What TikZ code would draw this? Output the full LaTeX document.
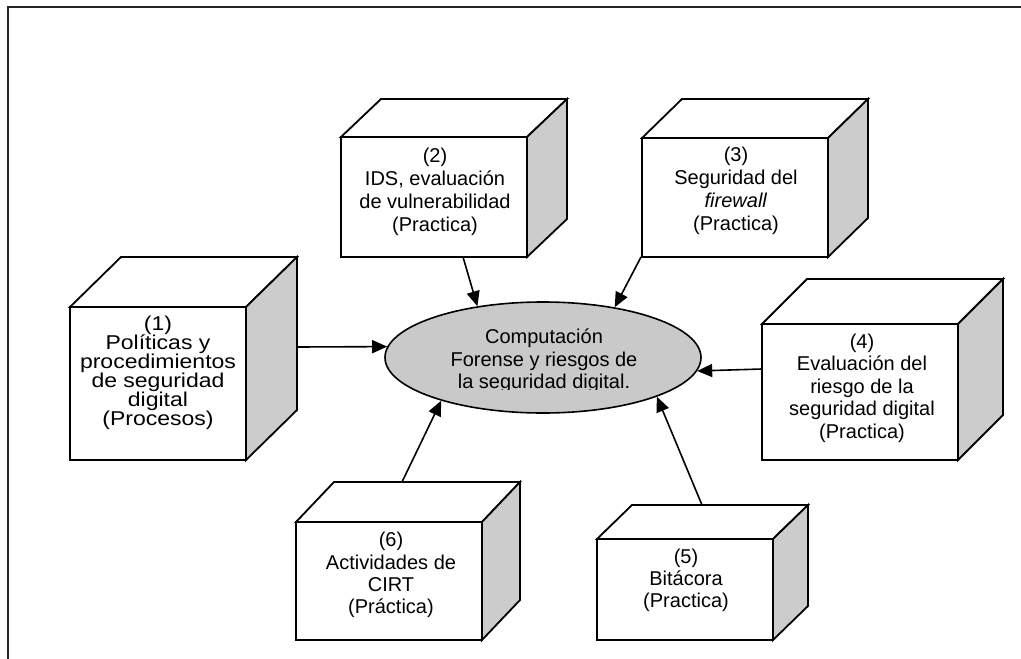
\documentclass[tikz,border=0pt]{standalone}
\usepackage{fontspec}
\setmainfont{Liberation Sans}
\newfontfamily\widesans[FakeStretch=1.15]{Liberation Sans}
\usetikzlibrary{shapes.geometric,arrows.meta}
\definecolor{sidegray}{gray}{0.8}
\definecolor{ellgray}{gray}{0.79}
\newcommand\cubebox[7]{%
  \node[face, minimum width={#4-#2}, minimum height={#5-#3}, anchor=north west] (#1) at (#2,#3) {};
  \draw[face] (#1.north west) -- ++(#6,-#7) -- ++({#4-#2},0) -- (#1.north east) -- cycle;
  \draw[sideface] (#1.north east) -- ++(#6,-#7) -- ++(0,{#5-#3}) -- (#1.south east) -- cycle;
}
\begin{document}
\begin{tikzpicture}[x=1pt,y=-1pt,
  face/.style={draw=black, line width=1.8pt, line join=miter, fill=white, inner sep=0pt, outer sep=0pt},
  sideface/.style={draw=black, line width=1.8pt, line join=miter, fill=sidegray},
  lbl/.style={align=center, inner sep=0pt},
  link/.style={draw=black, line width=1.6pt, -{Triangle[length=15pt,width=13pt]}},
]
\useasboundingbox (0,0) rectangle (1021,659);
\draw[line width=2.2pt, black!85] (8,659) -- (8,7) -- (1021,7);

\cubebox{b1}{70}{307}{246}{460}{51}{50}
\cubebox{b2}{341}{137}{527}{257}{40}{38}
\cubebox{b3}{642}{138}{828}{257}{40}{39}
\cubebox{b4}{762}{324}{958}{460}{45}{45}
\cubebox{b5}{597}{539}{773}{640}{35}{34}
\cubebox{b6}{296}{522}{482}{640}{38}{40}

\node[lbl, font=\widesans\fontsize{20}{19}\selectfont] (t1) at (158,373) {(1)\\Políticas y\\procedimientos\\de seguridad\\digital\\(Procesos)};
\node[lbl, font=\fontsize{20}{23}\selectfont] (t2) at (435,192) {(2)\\IDS, evaluación\\de vulnerabilidad\\(Practica)};
\node[lbl, font=\fontsize{20}{23}\selectfont] (t3) at (736,191) {(3)\\Seguridad del\\\textit{firewall}\\(Practica)};
\node[lbl, font=\fontsize{20}{22.5}\selectfont] (t4) at (862,388) {(4)\\Evaluación del\\riesgo de la\\seguridad digital\\(Practica)};
\node[lbl, font=\fontsize{20}{22}\selectfont] (t5) at (686,580) {(5)\\Bitácora\\(Practica)};
\node[lbl, font=\fontsize{20}{22.3}\selectfont] (t6) at (391,575) {(6)\\Actividades de\\CIRT\\(Práctica)};

\node[ellipse, draw=black, line width=1.6pt, fill=ellgray, minimum width=316pt, minimum height=111pt, inner sep=0pt] (c) at (543,357.5) {};
\begin{scope}
  \clip (380,300) rectangle (710,389.5);
  \node[lbl, font=\fontsize{20}{22.5}\selectfont] (ct) at (544,361) {Computación\\Forense y riesgos de\\la seguridad digital.};
\end{scope}

\coordinate (s1) at (297,347);
\coordinate (s2) at (463,257);
\coordinate (s3) at (641,257);
\coordinate (s4) at (762,369);
\coordinate (s5) at (702,505);
\coordinate (s6) at (402,482);

\draw[link] (s1) -- (c.176.5);
\draw[link] (s2) -- (c.142.6);
\draw[link] (s3) -- (c.35.4);
\draw[link] (s4) -- (c.355.75);
\draw[link] (s5) -- (c.341.7);
\draw[link] (s6) -- (c.203.3);
\end{tikzpicture}
\end{document}
